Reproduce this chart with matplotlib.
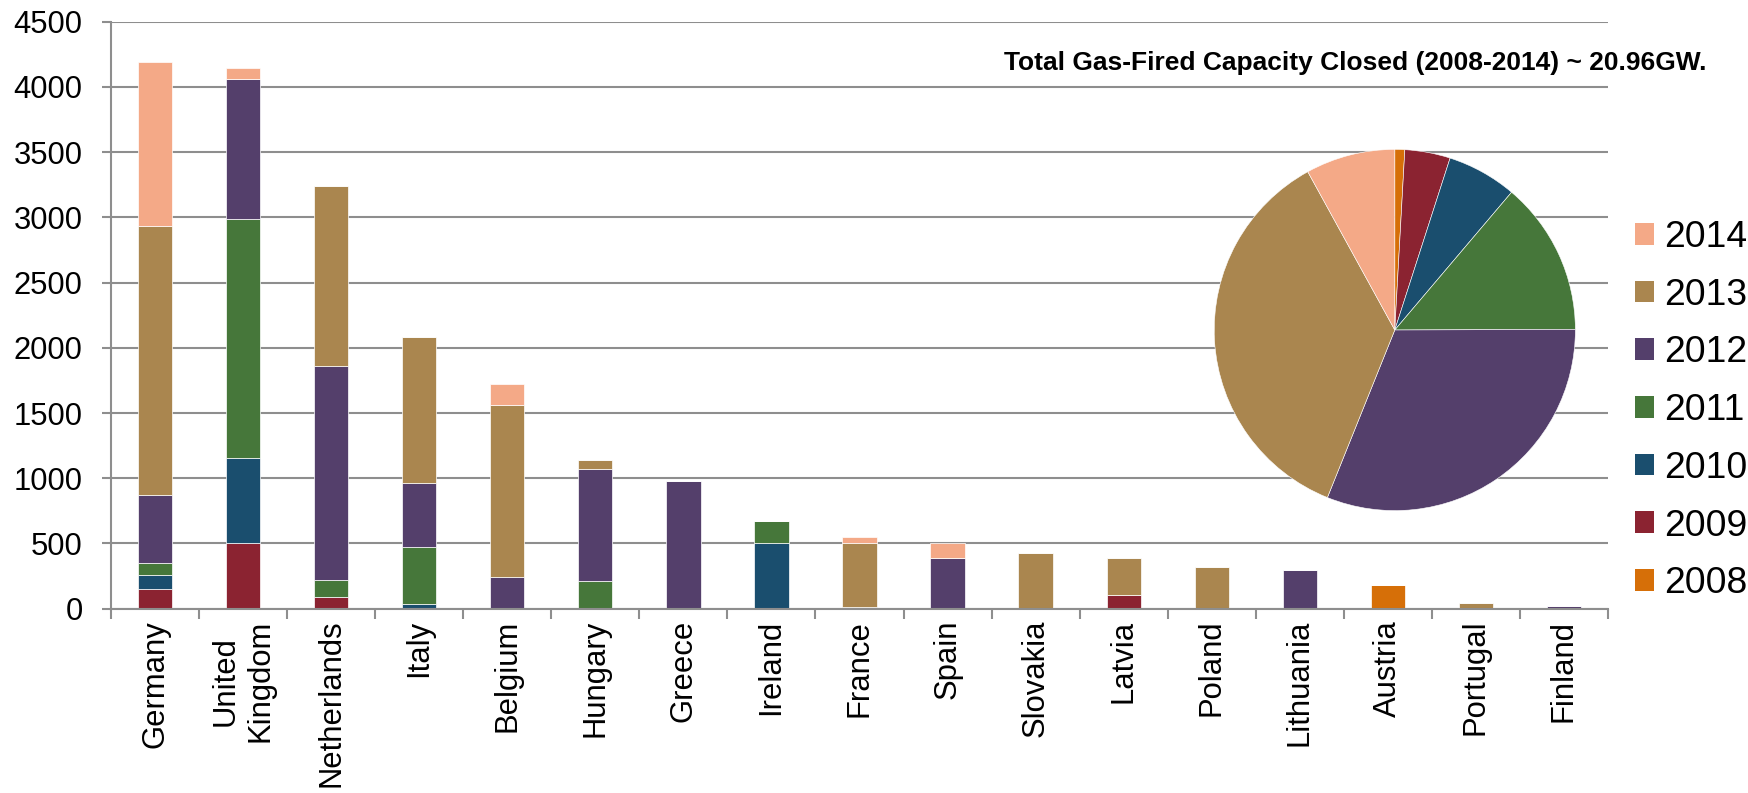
import matplotlib
matplotlib.use("Agg")
import matplotlib.pyplot as plt
from matplotlib.patches import Patch
from matplotlib.ticker import FixedLocator

plt.rcParams['font.family'] = ['Liberation Sans', 'DejaVu Sans']

countries = ['Germany', 'United\nKingdom', 'Netherlands', 'Italy', 'Belgium', 'Hungary',
             'Greece', 'Ireland', 'France', 'Spain', 'Slovakia', 'Latvia', 'Poland',
             'Lithuania', 'Austria', 'Portugal', 'Finland']

# closed capacity (MW) per year, one value per country
y2008 = [0, 0, 0, 0, 0, 0, 0, 0, 0, 0, 0, 0, 0, 0, 185, 0, 0]
y2009 = [152, 500, 93, 0, 0, 0, 0, 0, 0, 0, 0, 106, 0, 0, 0, 0, 0]
y2010 = [108, 655, 0, 39, 0, 0, 0, 503, 0, 0, 0, 0, 0, 0, 0, 0, 0]
y2011 = [90, 1833, 125, 434, 0, 212, 0, 173, 10, 0, 0, 0, 0, 0, 0, 0, 0]
y2012 = [520, 1070, 1643, 488, 245, 861, 982, 0, 0, 391, 0, 0, 0, 295, 0, 0, 19]
y2013 = [2060, 0, 1381, 1124, 1319, 69, 0, 0, 493, 0, 424, 279, 323, 0, 0, 40, 0]
y2014 = [1264, 88, 0, 0, 160, 0, 0, 0, 49, 112, 0, 0, 0, 0, 0, 0, 0]

years = ['2008', '2009', '2010', '2011', '2012', '2013', '2014']
series = [y2008, y2009, y2010, y2011, y2012, y2013, y2014]
colors = ['#D66F08', '#8B2331', '#1A4E6E', '#46773A', '#543F6B', '#AA864F', '#F4A987']

title = 'Total Gas-Fired Capacity Closed (2008-2014) ~ 20.96GW.'

W, H = 1748, 793
fig = plt.figure(figsize=(W / 100, H / 100), dpi=100)
ax = fig.add_axes([111 / W, 1 - 608.7 / H, (1608 - 111) / W, (608.7 - 21.7) / H])

x = list(range(len(countries)))
bottom = [0] * len(countries)
for vals, c in zip(series, colors):
    ax.bar(x, vals, width=0.39, bottom=bottom, color=c, edgecolor='white', linewidth=0.5)
    bottom = [b + v for b, v in zip(bottom, vals)]

gray = '#8E8E8E'
ax.set_xlim(-0.5, len(countries) - 0.5)
ax.set_ylim(0, 4500)
ax.set_yticks(range(0, 4501, 500))
ax.set_axisbelow(True)
ax.yaxis.grid(True, color=gray, linewidth=1.5)
for s in ['top', 'right']:
    ax.spines[s].set_visible(False)
for s in ['left', 'bottom']:
    ax.spines[s].set_color(gray)
    ax.spines[s].set_linewidth(1.5)

ax.set_xticks(x)
ax.set_xticklabels(countries, rotation=90, ha='center', va='top', multialignment='center')
ax.xaxis.set_minor_locator(FixedLocator([i - 0.5 for i in range(len(countries) + 1)]))
ax.tick_params(axis='x', which='major', length=0, pad=8, labelsize=22.3)
ax.tick_params(axis='x', which='minor', length=7, width=1.5, color=gray)
ax.tick_params(axis='y', length=6.5, width=1.5, color=gray, pad=14, labelsize=22.3)

fig.text(1706 / W, 1 - 70 / H, title, ha='right', va='baseline', fontsize=19, fontweight='bold')

# pie of totals per year
totals = [sum(v) for v in series]
r = 180.6
pax = fig.add_axes([(1394.8 - r) / W, 1 - (330 + r) / H, 2 * r / W, 2 * r / H])
pax.pie(totals, colors=colors, startangle=90, counterclock=False, radius=1,
        wedgeprops=dict(edgecolor='white', linewidth=0.4))
pax.set_xlim(-1, 1)
pax.set_ylim(-1, 1)
pax.axis('off')

handles = [Patch(facecolor=c, label=y) for y, c in zip(years, colors)][::-1]
fig.legend(handles=handles, loc='upper left', bbox_to_anchor=(1635 / W, 1 - 220 / H),
           frameon=False, fontsize=26.8, borderaxespad=0, borderpad=0,
           handlelength=0.52, handleheight=0.52, handletextpad=0.25, labelspacing=0.61)

fig.savefig('out.png', dpi=100)
